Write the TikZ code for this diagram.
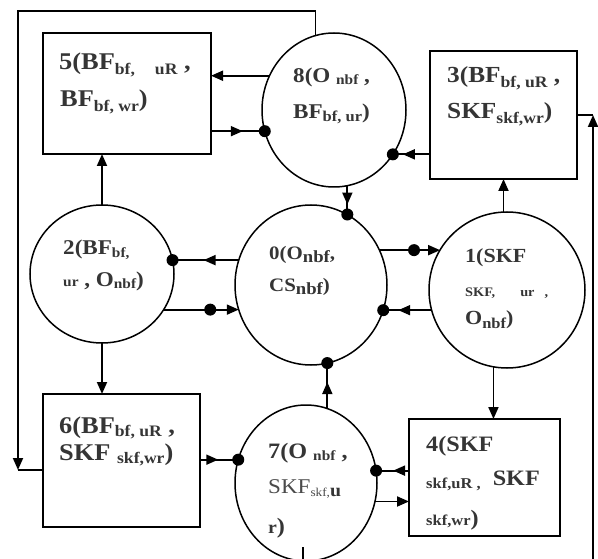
\documentclass[tikz,border=0pt]{standalone}
\usepackage{fontspec}
\setmainfont{Liberation Serif}[FakeStretch=1.1]
\usetikzlibrary{shapes.geometric,arrows.meta,decorations.markings}
\definecolor{txt}{HTML}{353535}
\definecolor{txtlight}{HTML}{4A4A4A}
\def\subsz{15}
\newcommand\mysub[2][5pt]{\raisebox{-#1}{\fontsize{\subsz}{\subsz}\selectfont #2}}
\begin{document}
\begin{tikzpicture}[x=1pt,y=-1pt,
  box/.style={draw,line width=1.5pt,inner sep=0pt,outer sep=0pt,anchor=north west},
  ell/.style={draw,ellipse,line width=1.5pt,inner sep=0pt,outer sep=0pt},
  conn/.style={line width=1.9pt},
  arr/.style={conn,-{Triangle[length=12pt,width=10pt]}},
  midarr/.style={conn,decoration={markings,mark=at position #1 with {\arrow{Triangle[length=12pt,width=10pt]}}},postaction={decorate}},
  middot/.style={conn,decoration={markings,mark=at position #1 with {\fill (0,0) circle[radius=6pt];}},postaction={decorate}},
  lab/.style 2 args={anchor=base west,inner sep=0pt,text=txt,font=\bfseries\fontsize{#1}{#1}\selectfont\def\subsz{#2}},
]
\useasboundingbox (0,0) rectangle (598,559);

% boxes
\node[box,minimum width=168pt,minimum height=121pt] (B5) at (43,33) {};
\node[box,minimum width=147pt,minimum height=128pt] (B3) at (430,51) {};
\node[box,minimum width=157pt,minimum height=133pt] (B6) at (43,394) {};
\node[box,minimum width=151pt,minimum height=117pt] (B4) at (409,419) {};

% ellipses
\node[ell,minimum width=144pt,minimum height=154pt] (E8) at (334,110) {};
\node[ell,minimum width=144pt,minimum height=138pt] (E2) at (102,274) {};
\node[ell,minimum width=152pt,minimum height=160pt] (E0) at (311,285) {};
\node[ell,minimum width=156pt,minimum height=156pt] (E1) at (507,290) {};
\node[ell,minimum width=142pt,minimum height=156pt] (E7) at (306,483) {};

% connectors
% 8 -> 5
\draw[arr] (E8.152) -- (B5.east |- E8.152);
% 5 -> 8
\draw[midarr=-22pt] (B5.east |- E8.197) -- (E8.197);
\fill (E8.197) circle[radius=6pt];
% 3 -> 8
\draw[midarr=-10pt] (B3.west |- E8.323) -- (E8.323);
\fill (E8.323) circle[radius=6pt];
% 8 -> 0
\draw[midarr=-10pt] (E8.280) -- (E8.280 |- E0.63);
\fill (E8.280 |- E0.63) circle[radius=6pt];
% 2 -> 5, 2 -> 6
\draw[arr] (E2.north) -- (E2.north |- B5.south);
\draw[arr] (E2.south) -- (E2.south |- B6.north);
% 0 -> 2
\draw[midarr=-31pt] (E0.161) -- (E2.11 |- E0.161);
\fill (E2.11 |- E0.161) circle[radius=6pt];
% 2 -> 0
\draw[middot=0.62,arr] (E2.330) -- (E0.199 |- E2.330);
% 0 -> 1
\draw[middot=0.57,arr] (E0.27) -- (E1.149 |- E0.27);
% 1 -> 0
\draw[midarr=-15pt] (E1.195) -- (E0.341 |- E1.195);
\fill (E0.341 |- E1.195) circle[radius=6pt];
% 1 -> 3
\draw[arr] (B3.south |- E1.north) -- (B3.south);
% 1 -> 4
\draw[arr] (E1.260) -- (E1.260 |- B4.north);
% 7 -> 0
\draw[midarr=-19pt] (E7.74) -- (E7.74 |- E0.282);
\fill (E7.74 |- E0.282) circle[radius=6pt];
% 6 -> 7
\draw[midarr=-20pt] (B6.east |- E7.161) -- (E7.161);
\fill (E7.161) circle[radius=6pt];
% 4 -> 7
\draw[midarr=-17pt] (B4.west |- E7.10) -- (E7.10);
\fill (E7.10) circle[radius=6pt];
% 7 -> 4
\draw[arr] (E7.345) -- (B4.west |- E7.345);

% outer loops
\coordinate (TL) at (18,11);
\coordinate (BL) at (18,470);
\draw[arr] (E8.104) |- (TL) -- (BL);
\draw[conn] (BL) -- (B6.west |- BL);
\coordinate (S7) at (303,547);
\coordinate (BR) at (593,566);
\coordinate (TR) at (593,115);
\draw[arr] (S7) |- (BR) -- (TR);
\draw[conn] (TR) -- (B3.east);

% texts
\node[lab={24}{16}] (t5a) at (59,70) {5(BF\mysub{bf,\hspace{20pt}uR} ,};
\node[lab={24}{16}] (t5b) at (60,107) {BF\mysub{bf, wr})};
\node[lab={23}{16}] (t3a) at (447,83) {3(BF\mysub{bf, uR} ,};
\node[lab={23}{16}] (t3b) at (447,119) {SKF\mysub{skf,wr})};
\node[lab={21}{14}] (t8a) at (293,83) {8(O \mysub[2pt]{nbf} ,};
\node[lab={21}{15}] (t8b) at (293,119) {BF\mysub[3pt]{bf, ur})};
\node[lab={21}{14}] (t2a) at (63,255) {2(BF\mysub[2pt]{bf,}};
\node[lab={21}{14}] (t2b) at (63,287) {\mysub[0pt]{ur} , O\mysub[2pt]{nbf})};
\node[lab={19}{17}] (t0a) at (269,260) {0(O\mysub[3pt]{nbf},};
\node[lab={19}{17}] (t0b) at (269,291) {CS\mysub[3pt]{nbf})};
\node[lab={20}{15}] (t1a) at (465,263) {1(SKF};
\node[lab={13}{13}] (t1b) at (465,297) {SKF,\hspace{25pt}ur\hspace{10pt},};
\node[lab={20}{15}] (t1c) at (465,325) {O\mysub[3pt]{nbf})};
\node[lab={24}{16}] (t6a) at (59,433) {6(BF\mysub[3pt]{bf, uR} ,};
\node[lab={24}{16}] (t6b) at (59,460) {SKF \mysub[3pt]{skf,wr})};
\node[lab={22}{14}] (t7a) at (268,458) {7(O \mysub[2pt]{nbf} ,};
\node[lab={21}{12}] (t7b) at (268,493) {{\mdseries\color{txtlight}SKF\mysub[3pt]{skf,}}{\def\subsz{18}\mysub[3pt]{u}}};
\node[lab={22}{18}] (t7c) at (268,533) {\mysub[0pt]{r})};
\node[lab={22}{15}] (t4a) at (426,451) {4(SKF};
\node[lab={22}{15}] (t4b) at (426,485) {\mysub[3pt]{skf,uR ,}\hspace{12pt}SKF};
\node[lab={22}{15}] (t4c) at (426,525) {\mysub[0pt]{skf,wr})};
\end{tikzpicture}
\end{document}
